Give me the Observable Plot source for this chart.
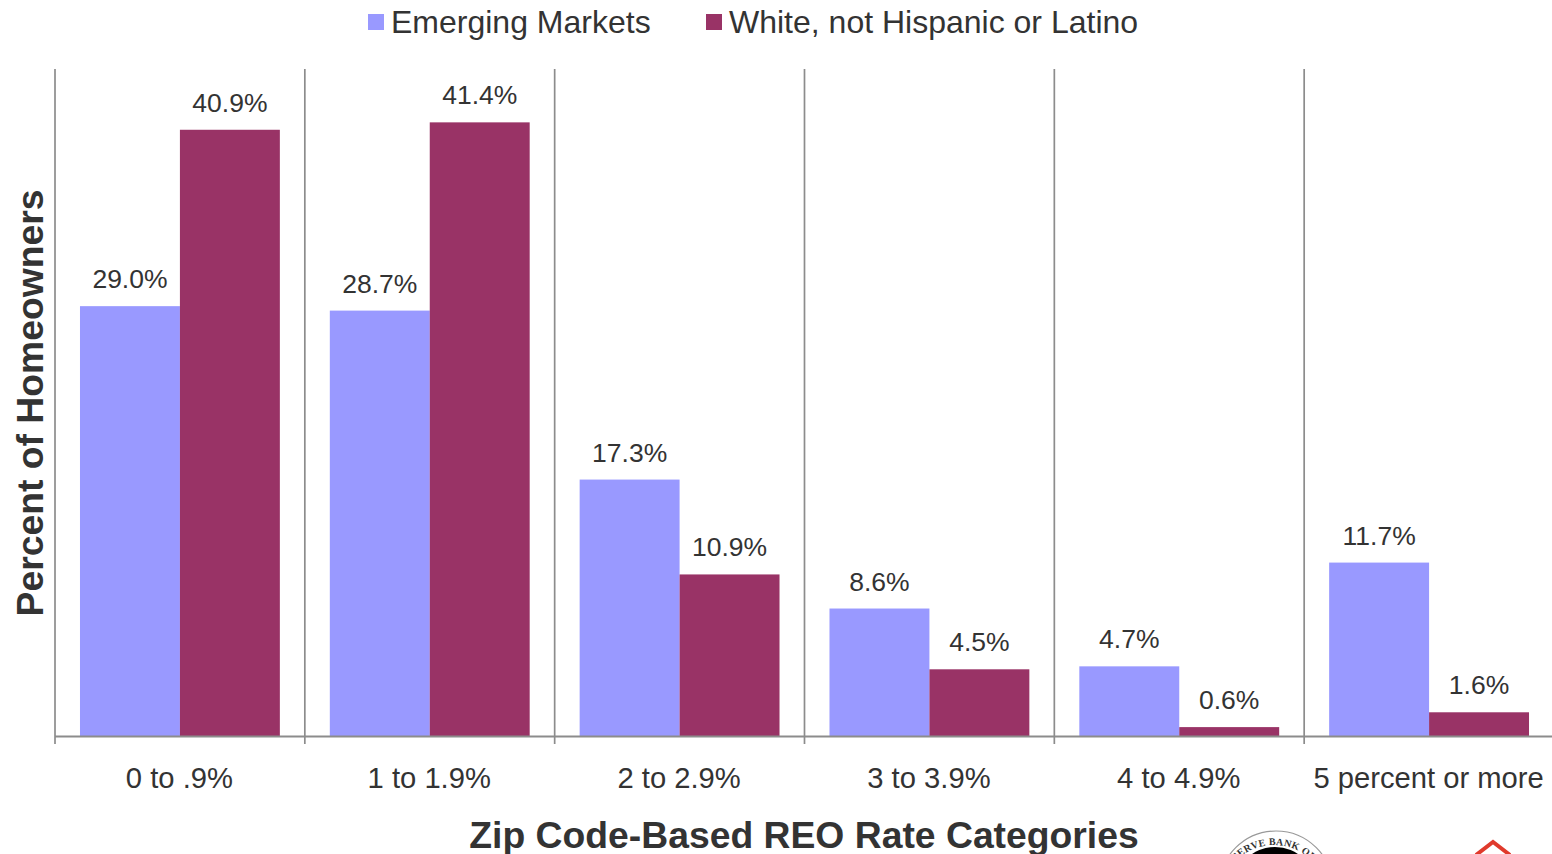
<!DOCTYPE html>
<html>
<head>
<meta charset="utf-8">
<script src="https://cdn.jsdelivr.net/npm/d3@7"></script>
<script src="https://cdn.jsdelivr.net/npm/@observablehq/plot@0.6"></script>
<style>
  html, body { margin: 0; background: #fff; overflow: hidden; }
  #page { position: relative; width: 1552px; height: 854px; font-family: "Liberation Sans", Arial, sans-serif; color: #333; }
  #legend { position: relative; height: 46px; }
  .key { position: absolute; top: 14px; width: 16px; height: 16px; }
  .name { position: absolute; top: 3px; font-size: 32px; line-height: 38px; white-space: nowrap; }
  #crest { position: absolute; left: 0; top: 0; pointer-events: none; }
  svg { display: block; }
</style>
</head>
<body>
<div id="page">
  <div id="legend"></div>
  <div id="chart"></div>
  <svg id="crest" width="1552" height="854" viewBox="0 0 1552 854">
    <defs><path id="sealArc" d="M 1220 899 A 54 54 0 0 1 1328 899"></path></defs>
    <circle cx="1276" cy="888" r="57" fill="#fff" stroke="#999" stroke-width="1.2"></circle>
    <circle cx="1275" cy="888" r="41" fill="#000"></circle>
    <text font-family="Liberation Serif, serif" font-size="10" font-weight="bold" fill="#333" text-anchor="middle" letter-spacing="0.3">
      <textPath href="#sealArc" startOffset="50%">SERVE BANK OF</textPath>
    </text>
    <path d="M 1476 855 L 1493 842 L 1510 855" fill="none" stroke="#e03a2c" stroke-width="4"></path>
  </svg>
</div>
<script>
const categories = ["0 to .9%", "1 to 1.9%", "2 to 2.9%", "3 to 3.9%", "4 to 4.9%", "5 percent or more"];
const seriesNames = ["Emerging Markets", "White, not Hispanic or Latino"];
const emergingMarkets = [29.0, 28.7, 17.3, 8.6, 4.7, 11.7];
const whiteNotHispanic = [40.9, 41.4, 10.9, 4.5, 0.6, 1.6];
const seriesColors = ["#9999ff", "#993366"];
const textColor = "#333333";
const lineColor = "#8c8c8c";

// Legend row above the plot
const legend = document.getElementById("legend");
[[368, 391], [706, 729]].forEach(([keyLeft, nameLeft], i) => {
  const key = document.createElement("div");
  key.className = "key";
  key.style.left = keyLeft + "px";
  key.style.background = seriesColors[i];
  const name = document.createElement("div");
  name.className = "name";
  name.style.left = nameLeft + "px";
  name.textContent = seriesNames[i];
  legend.append(key, name);
});

// Each category occupies one unit of x; the two bars sit side by side within it.
const bars = categories.flatMap((category, i) => [
  {i, x1: i + 0.1, x2: i + 0.5, value: emergingMarkets[i], series: seriesNames[0]},
  {i, x1: i + 0.5, x2: i + 0.9, value: whiteNotHispanic[i], series: seriesNames[1]}
]);
const edges = d3.range(categories.length + 1);
const centers = categories.map((_, i) => i + 0.5);

const chart = Plot.plot({
  width: 1552,
  height: 808,
  marginTop: 23,
  marginBottom: 118,
  marginLeft: 55,
  marginRight: 0,
  style: {background: "transparent", fontFamily: "Liberation Sans, Arial, sans-serif"},
  x: {domain: [0, 6], range: [55, 1554], axis: null},
  y: {domain: [0, 45], axis: null},
  color: {domain: seriesNames, range: seriesColors},
  marks: [
    Plot.rectY(bars, {x1: "x1", x2: "x2", y1: 0, y2: "value", fill: "series"}),
    Plot.ruleX(edges, {x: d => d, y1: 45, y2: 0, dx: -0.5, stroke: lineColor, strokeWidth: 1.7, strokeOpacity: 1, insetBottom: -8}),
    Plot.ruleY([0], {stroke: lineColor, strokeWidth: 2.2}),
    Plot.text(bars, {
      x: d => (d.x1 + d.x2) / 2,
      y: "value",
      text: d => d.value.toFixed(1) + "%",
      dy: -27,
      dx: -0.5,
      fontSize: 26.5,
      fill: textColor
    }),
    Plot.axisX({
      ticks: centers,
      tickFormat: d => categories[Math.floor(d)],
      tickSize: 0,
      tickPadding: 31,
      dx: -1,
      anchor: "bottom",
      label: null,
      fontSize: 29.2,
      color: textColor
    }),
    Plot.text(["Zip Code-Based REO Rate Categories"], {
      x: [3],
      y: [0],
      dy: 100,
      dx: -1,
      fontSize: 37.3,
      fontWeight: "bold",
      fill: textColor
    }),
    Plot.text(["Percent of Homeowners"], {
      frameAnchor: "left",
      textAnchor: "middle",
      rotate: -90,
      dx: -24,
      fontSize: 37.3,
      fontWeight: "bold",
      fill: textColor
    })
  ]
});
document.getElementById("chart").append(chart);
</script>
</body>
</html>
